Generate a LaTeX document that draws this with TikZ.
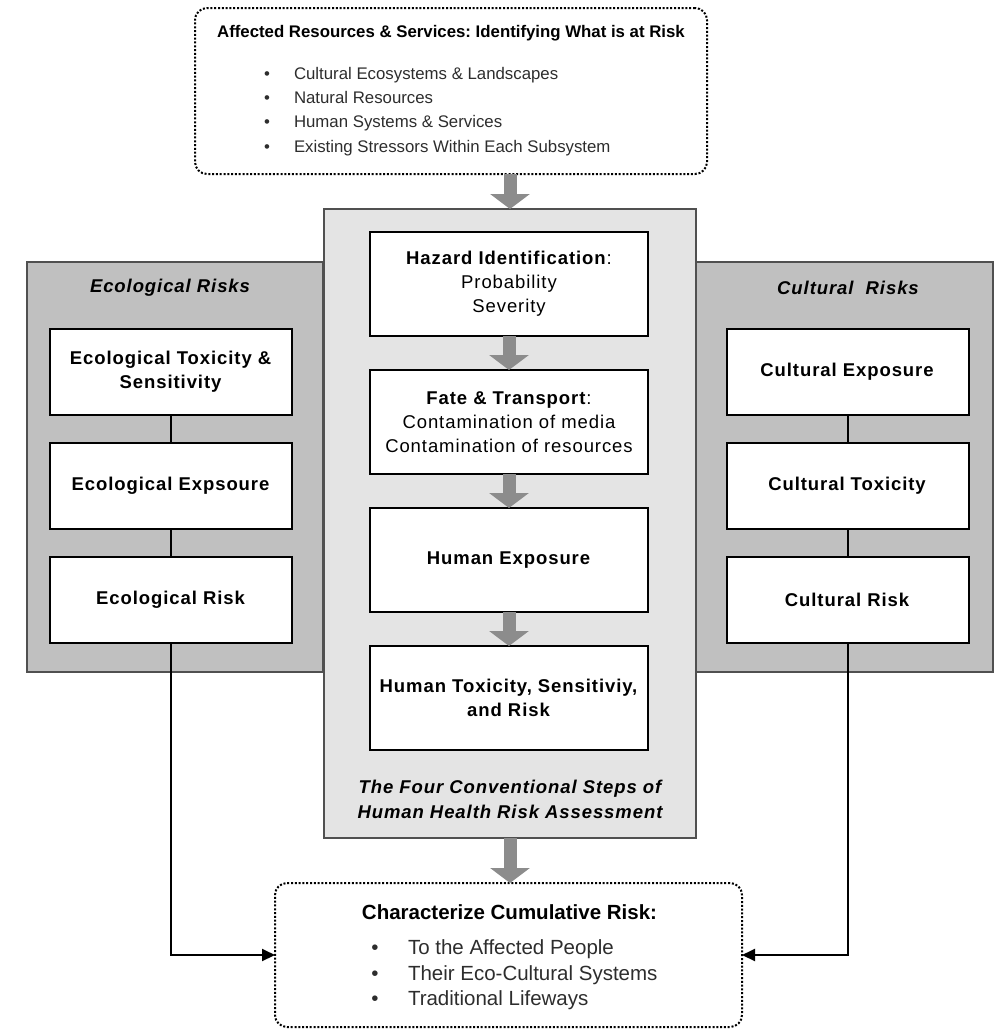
\documentclass[tikz,border=0pt]{standalone}
\usepackage{fontspec}
\setmainfont{Liberation Sans}
\newfontfamily\spacedsans{Liberation Sans}[LetterSpace=5]
\usetikzlibrary{arrows.meta,positioning}
\frenchspacing

\definecolor{sidegray}{RGB}{192,192,192}
\definecolor{middlegray}{RGB}{228,228,228}
\definecolor{arrowgray}{RGB}{140,140,140}
\definecolor{framegray}{RGB}{80,80,80}
\definecolor{listgray}{RGB}{45,45,45}

\begin{document}
\begin{tikzpicture}[
		x=1pt,
		y=-1pt,
		every node/.style={inner sep=0pt, outer sep=0pt},
		panel/.style={draw=framegray, line width=1.5pt},
		stepbox/.style={draw=black, line width=2pt, fill=white, align=center,
			font=\spacedsans\fontsize{18.5}{24}\selectfont},
		riskbox/.style={stepbox, minimum width=242pt, minimum height=86pt},
		humanbox/.style={stepbox, minimum width=278pt, minimum height=104pt},
		dotbox/.style={draw=black, line width=2pt, dash pattern=on 2pt off 1.8pt,
			rounded corners=12pt},
		paneltitle/.style={align=center,
			font=\spacedsans\fontsize{18.5}{25}\selectfont\bfseries\itshape},
		bigarrow/.style={draw=arrowgray, line width=13pt,
			-{Triangle[width=39pt,length=15pt]}},
		link/.style={draw=black, line width=2pt},
		feed/.style={link, -{Triangle[width=12pt,length=13pt]}},
		topitem/.style={anchor=west, text=listgray, text height=12pt, text depth=4pt,
			font=\fontsize{16.8}{20}\selectfont},
		lowitem/.style={anchor=west, text=listgray, text height=14pt, text depth=5pt,
			font=\fontsize{20.5}{24}\selectfont}
		]
		
		\useasboundingbox (0,0) rectangle (997,1029);
		
		% what is at risk
		\node[dotbox, minimum width=512pt, minimum height=166pt] (atRisk) at (451,91) {};
		\node[font=\fontsize{16.8}{20}\selectfont\bfseries] (atRiskTitle) at (451,33)
		{Affected Resources \& Services: Identifying What is at Risk};
		\node[topitem] (atRiskA) at (294,75) {Cultural Ecosystems \& Landscapes};
		\node[topitem] (atRiskB) at (294,99) {Natural Resources};
		\node[topitem] (atRiskC) at (294,123) {Human Systems \& Services};
		\node[topitem] (atRiskD) at (294,148) {Existing Stressors Within Each Subsystem};
		\node[topitem, anchor=center] (dotA) at (267,75) {\textbullet};
		\node[topitem, anchor=center] (dotB) at (267,99) {\textbullet};
		\node[topitem, anchor=center] (dotC) at (267,123) {\textbullet};
		\node[topitem, anchor=center] (dotD) at (267,148) {\textbullet};
		
		% side panels, then the middle one on top
		\node[panel, fill=sidegray, minimum width=296pt, minimum height=410pt]
		(ecoPanel) at (175,467) {};
		\node[panel, fill=sidegray, minimum width=298pt, minimum height=410pt]
		(culPanel) at (844,467) {};
		\node[panel, fill=middlegray, minimum width=372pt, minimum height=629pt]
		(humanPanel) at (510,523.5) {};
		
		\node[paneltitle] (ecoTitle) at (170,288) {Ecological Risks};
		\node[paneltitle] (culTitle) at (848,288) {Cultural\ \ Risks};
		\node[paneltitle] (humanTitle) at (510,799.5)
		{The Four Conventional Steps of\\Human Health Risk Assessment};
		
		% ecological column
		\node[riskbox] (ecoTox) at (171,372) {\textbf{Ecological Toxicity \&}\\\textbf{Sensitivity}};
		\node[riskbox, below=28pt of ecoTox] (ecoExp) {\textbf{Ecological Expsoure}};
		\node[riskbox, below=28pt of ecoExp] (ecoRisk) {\textbf{Ecological Risk}};
		
		% cultural column
		\node[riskbox] (culExp) at (847.5,372) {\textbf{Cultural Exposure}};
		\node[riskbox, below=28pt of culExp] (culTox) {\textbf{Cultural Toxicity}};
		\node[riskbox, below=28pt of culTox] (culRisk) {\textbf{Cultural Risk}};
		
		% four human health steps
		\node[humanbox] (hazard) at (509,284)
		{\textbf{Hazard Identification}:\\Probability\\Severity};
		\node[humanbox, below=34pt of hazard] (fate)
		{\textbf{Fate \& Transport}:\\Contamination of media\\Contamination of resources};
		\node[humanbox, below=34pt of fate] (exposure) {\textbf{Human Exposure}};
		\node[humanbox, below=34pt of exposure] (toxicity)
		{\textbf{Human Toxicity, Sensitiviy,}\\\textbf{and Risk}};
		
		% cumulative risk
		\node[dotbox, minimum width=467pt, minimum height=144pt] (cumRisk) at (508.5,955) {};
		\node[font=\fontsize{20.5}{24}\selectfont\bfseries] (cumTitle) at (509.5,912)
		{Characterize Cumulative Risk:};
		\node[lowitem] (cumA) at (408,950) {To the Affected People};
		\node[lowitem] (cumB) at (408,976) {Their Eco-Cultural Systems};
		\node[lowitem] (cumC) at (408,1001) {Traditional Lifeways};
		\node[lowitem, anchor=center] (cumDotA) at (375,950) {\textbullet};
		\node[lowitem, anchor=center] (cumDotB) at (375,976) {\textbullet};
		\node[lowitem, anchor=center] (cumDotC) at (375,1001) {\textbullet};
		
		% gray flow arrows
		\draw[bigarrow] (atRisk.south -| humanPanel.north) -- (humanPanel.north);
		\draw[bigarrow] (hazard) -- (fate);
		\draw[bigarrow] (fate) -- (exposure);
		\draw[bigarrow] (exposure) -- (toxicity);
		\draw[bigarrow] (humanPanel.south) -- (cumRisk.north -| humanPanel.south);
		
		% thin links
		\draw[link] (ecoTox) -- (ecoExp);
		\draw[link] (ecoExp) -- (ecoRisk);
		\draw[link] (culExp) -- (culTox);
		\draw[link] (culTox) -- (culRisk);
		\draw[feed] (ecoRisk.south) |- (cumRisk.west);
		\draw[feed] (culRisk.south) |- (cumRisk.east);
		
	\end{tikzpicture}
\end{document}
